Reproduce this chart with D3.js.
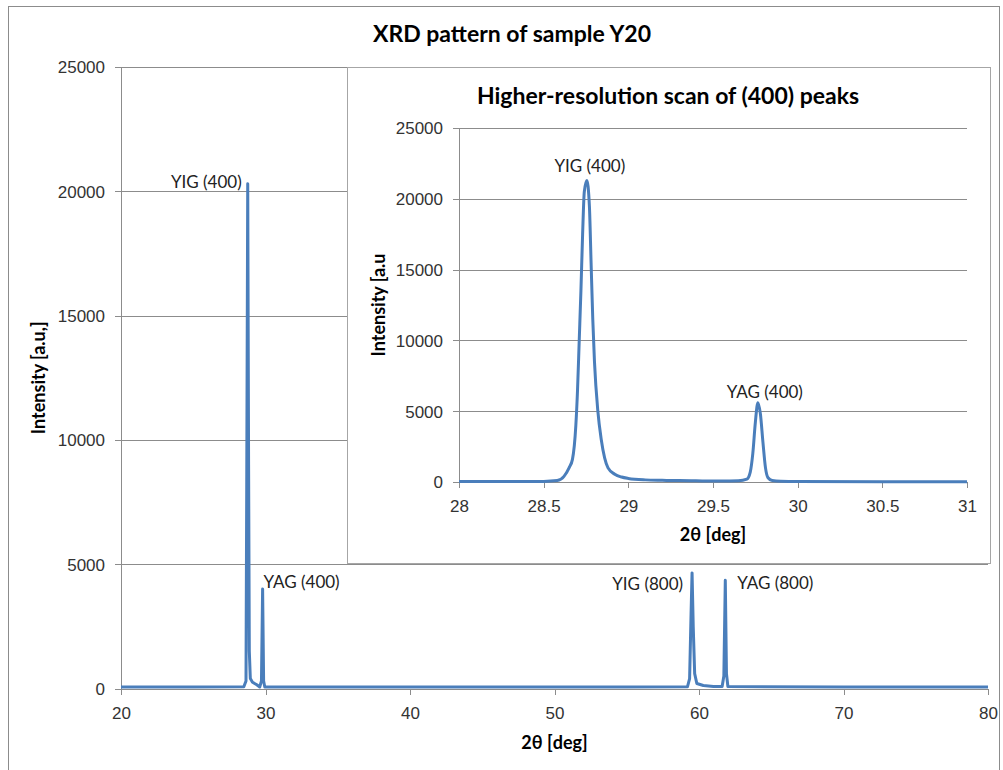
<!doctype html>
<html lang="en">
<head>
  <meta charset="utf-8">
  <title>XRD pattern of sample Y20</title>
  <style>
    body { margin: 0; background: #fff; }
    svg { display: block; font-family: Lato, "Liberation Sans", sans-serif; }
    .grid line { stroke: #8c8c8c; stroke-width: 1; }
    .axis path, .axis line { stroke: #8c8c8c; stroke-width: 1; shape-rendering: crispEdges; }
    .axis text { fill: #333; font-size: 17px; }
    .trace { fill: none; stroke: #4a7ebb; stroke-width: 3; stroke-linejoin: round; }
    .title { font-weight: bold; font-size: 23px; fill: #000; }
    .axtitle { font-weight: bold; font-size: 18px; fill: #000; }
    .note { font-size: 17px; fill: #222; }
  </style>
</head>

<body>
  <script src="https://cdn.jsdelivr.net/npm/d3@7"></script>
  <script>
(function() {

// full scan 20-80 deg
var mainAngle = [20, 25, 28.5, 28.65, 28.7, 28.77, 28.83, 28.88, 28.95, 29.1, 29.4, 29.6, 29.72, 29.8, 29.87, 29.95,
                 35, 45, 55, 59.2, 59.35, 59.45, 59.52, 59.6, 59.7, 59.85, 60.3, 61.0, 61.6, 61.72, 61.82, 61.9, 62.0, 70, 80];
var mainCounts = [60, 60, 70, 300, 8000, 20300, 9000, 1500, 400, 250, 150, 60, 300, 4000, 300, 60,
                  60, 60, 60, 70, 400, 3000, 4650, 2500, 600, 200, 120, 80, 80, 500, 4350, 600, 80, 60, 60];

// high-resolution scan 28-31 deg
var insetAngle = [28.0, 28.3, 28.5, 28.58, 28.62, 28.65, 28.67, 28.69, 28.70, 28.71, 28.72, 28.73, 28.74, 28.755,
                  28.77, 28.78, 28.79, 28.80, 28.82, 28.84, 28.86, 28.88, 28.92, 28.96, 29.0, 29.1, 29.2, 29.3,
                  29.4, 29.5, 29.6, 29.65, 29.70, 29.72, 29.735, 29.75, 29.765, 29.78, 29.795, 29.81, 29.825,
                  29.85, 29.9, 30.0, 30.5, 31.0];
var insetCounts = [30, 30, 40, 100, 400, 1000, 1600, 4000, 6500, 10000, 13500, 17500, 20500, 21300,
                   19500, 15500, 11500, 8500, 5000, 3000, 1700, 1000, 550, 350, 250, 150, 120, 100,
                   80, 70, 70, 80, 200, 700, 2000, 4200, 5600, 4800, 2800, 1000, 300,
                   100, 50, 30, 20, 20];

var mainXTicks = [20, 30, 40, 50, 60, 70, 80];
var mainYTicks = [0, 5000, 10000, 15000, 20000, 25000];
var insetXTicks = [28, 28.5, 29, 29.5, 30, 30.5, 31];
var insetYTicks = [0, 5000, 10000, 15000, 20000, 25000];

var mainNotes = [
  {text: "YIG (400)", x: 28.77, y: 20300, anchor: "end", dx: -6, dy: 4},
  {text: "YAG (400)", x: 29.8, y: 4000, anchor: "start", dx: 1, dy: -1},
  {text: "YIG (800)", x: 59.52, y: 4650, anchor: "end", dx: -9, dy: 17},
  {text: "YAG (800)", x: 61.82, y: 4350, anchor: "start", dx: 12, dy: 9}
];
var insetNotes = [
  {text: "YIG (400)", x: 28.755, y: 21300, anchor: "middle", dx: 3, dy: -8},
  {text: "YAG (400)", x: 29.765, y: 5600, anchor: "middle", dx: 7, dy: -5}
];

var svg = d3.select("body").append("svg")
    .attr("width", 1003)
    .attr("height", 770);

// chart frame
svg.append("rect")
    .attr("x", 8.5).attr("y", 6.5)
    .attr("width", 991).attr("height", 800)
    .attr("fill", "#fff").attr("stroke", "#8c8c8c");

svg.append("text").attr("class", "title")
    .attr("x", 512).attr("y", 42)
    .attr("text-anchor", "middle")
    .text("XRD pattern of sample Y20");

var drawPanel = function(g, opts) {
  var x = d3.scaleLinear().domain(opts.xDomain).range([opts.left, opts.right]);
  var y = d3.scaleLinear().domain([0, 25000]).range([opts.bottom, opts.top]);

  g.append("g").attr("class", "grid")
    .selectAll("line").data(opts.yTicks.filter(function(d) { return d > 0; }))
    .enter().append("line")
      .attr("x1", opts.left).attr("x2", opts.right)
      .attr("y1", function(d) { return Math.round(y(d)) + 0.5; })
      .attr("y2", function(d) { return Math.round(y(d)) + 0.5; });

  g.append("g").attr("class", "axis")
    .attr("transform", "translate(" + opts.left + ",0)")
    .call(d3.axisLeft(y).tickValues(opts.yTicks).tickFormat(String)
      .tickSize(6).tickPadding(10).tickSizeOuter(0))
    .selectAll("text").attr("dy", "0.35em");

  g.append("g").attr("class", "axis")
    .attr("transform", "translate(0," + opts.bottom + ")")
    .call(d3.axisBottom(x).tickValues(opts.xTicks).tickFormat(String)
      .tickSize(6).tickPadding(opts.xPad).tickSizeOuter(0));

  var pts = opts.xs.map(function(d, i) { return [d, opts.ys[i]]; });
  g.append("path").attr("class", "trace")
    .attr("d", d3.line().curve(opts.curve)
      .x(function(d) { return x(d[0]); }).y(function(d) { return y(d[1]); })(pts));

  g.selectAll("text.note").data(opts.notes).enter().append("text")
    .attr("class", "note")
    .attr("x", function(d) { return x(d.x) + d.dx; })
    .attr("y", function(d) { return y(d.y) + d.dy; })
    .attr("text-anchor", function(d) { return d.anchor; })
    .text(function(d) { return d.text; });

  g.append("text").attr("class", "axtitle")
    .attr("x", (opts.left + opts.right) / 2).attr("y", opts.xTitleY)
    .attr("text-anchor", "middle")
    .text("2θ [deg]");

  g.append("text").attr("class", "axtitle")
    .attr("transform", "translate(" + opts.yTitleX + "," + ((opts.top + opts.bottom) / 2) + ") rotate(-90)")
    .attr("text-anchor", "middle")
    .text(opts.yTitle);
};

drawPanel(svg.append("g"), {
  xDomain: [20, 80], left: 121, right: 988, top: 67, bottom: 688.5,
  xs: mainAngle, ys: mainCounts, xTicks: mainXTicks, yTicks: mainYTicks, curve: d3.curveLinear,
  notes: mainNotes, xPad: 12, xTitleY: 749, yTitleX: 45, yTitle: "Intensity [a.u,]"
});

// inset box
var inset = svg.append("g");
inset.append("rect")
    .attr("x", 347.5).attr("y", 67.5)
    .attr("width", 643).attr("height", 496)
    .attr("fill", "#fff").attr("stroke", "#a6a6a6");

inset.append("text").attr("class", "title")
    .attr("x", 668).attr("y", 104)
    .attr("text-anchor", "middle")
    .text("Higher-resolution scan of (400) peaks");

drawPanel(inset, {
  xDomain: [28, 31], left: 459, right: 967, top: 128, bottom: 482,
  xs: insetAngle, ys: insetCounts, xTicks: insetXTicks, yTicks: insetYTicks, curve: d3.curveMonotoneX,
  notes: insetNotes, xPad: 12, xTitleY: 541, yTitleX: 385, yTitle: "Intensity [a.u"
});

})();
  </script>
</body>
</html>
